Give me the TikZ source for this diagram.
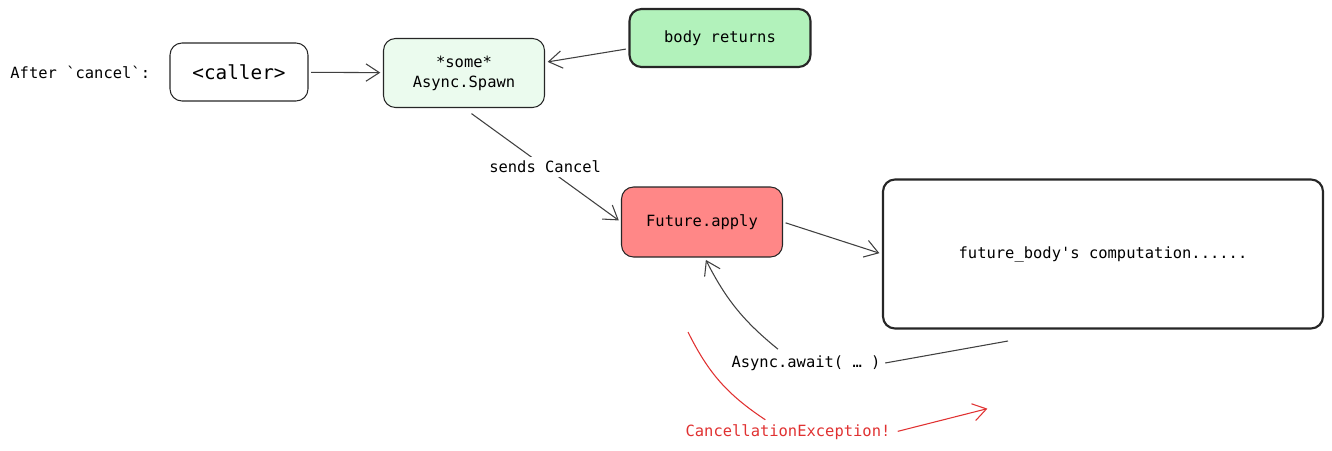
\documentclass[tikz,border=0pt]{standalone}
\usepackage{fontspec}
\setmonofont{DejaVu Sans Mono}
\usepackage{tikz}
\usetikzlibrary{arrows.meta,positioning}
\definecolor{spawngreen}{HTML}{EBFBEE}
\definecolor{bodygreen}{HTML}{B2F2BB}
\definecolor{futurered}{HTML}{FF8787}
\definecolor{excred}{HTML}{E03131}
\tikzset{
    %Define standard arrow tip
    >={Straight Barb[length=10pt,width=13pt]},
    %Define style for boxes
    blokk/.style={
           rectangle,
           rounded corners=9pt,
           draw=black!85, line width=0.8pt,
           font=\ttfamily\fontsize{11.6}{15}\selectfont,
           align=center},
    blokktykk/.style={
           blokk,
           line width=1.6pt},
    tekst/.style={
           font=\ttfamily\fontsize{11.6}{15}\selectfont},
    % Define arrow style
    pil/.style={
           ->,
           draw=black!75, line width=0.8pt,
           shorten <=2pt,
           shorten >=2pt,}
}
\begin{document}
\begin{tikzpicture}[x=0.75pt,y=-0.75pt]
\useasboundingbox (0,0) rectangle (1332,450);
 %nodes
\node[blokk, minimum width=103.5pt, minimum height=43.5pt, font=\ttfamily\fontsize{14.5}{17}\selectfont](caller) at (239,72){<caller>};
\node[tekst, left=11pt of caller](after){After `cancel`:};
\node[blokk, fill=spawngreen, minimum width=120.75pt, minimum height=51.75pt](spawn) at (464,73){*some*\\Async.Spawn};
\node[blokktykk, fill=bodygreen, minimum width=135.75pt, minimum height=43.5pt](body) at (720,38){body returns};
\node[blokk, fill=futurered, minimum width=120.75pt, minimum height=52.5pt](future) at (702,222){Future.apply};
\node[blokktykk, minimum width=330pt, minimum height=111.75pt](comp) at (1103,254){future\_body's computation......};
\node[tekst](await) at (806,363){Async.await( … )};
\node[tekst, text=excred](exc) at (788,432){CancellationException!};
\coordinate (awaitend) at (1008,341);
\coordinate (redstart) at (688,332);
\coordinate (redend) at (990,408);
 %connectors
\draw[pil] (caller) -- (spawn);
\draw[pil] ([yshift=-8pt]body.west) -- ([yshift=8pt]spawn.east);
\draw[pil] ([xshift=4pt,yshift=-3pt]spawn.south) -- node[tekst, fill=white]{sends Cancel} (future.west);
\draw[pil] (future.east) -- (comp.west);
\draw[pil] ([xshift=-19.5pt]await.north) to[bend left=12] ([xshift=2pt]future.south);
\draw[draw=black!75, line width=0.8pt] (await.east) -- (awaitend);
\draw[draw=excred, line width=0.8pt] (redstart) to[bend right=15] ([xshift=-17pt]exc.north);
\draw[pil, draw=excred] (exc.east) -- (redend);
\end{tikzpicture}
\end{document}
